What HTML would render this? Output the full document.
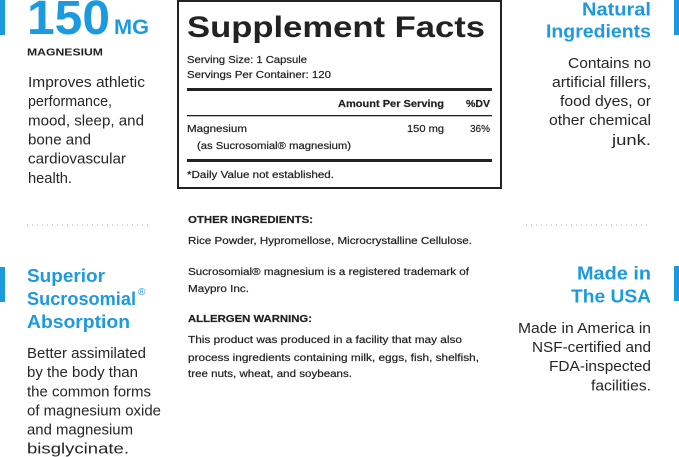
<!DOCTYPE html>
<html><head><meta charset="utf-8"><style>
html,body{margin:0;padding:0;background:#fff;}
svg{display:block;}
text{font-family:"Liberation Sans",sans-serif;}
.b{font-weight:bold;}
.blue{fill:#1c9ae0;}
.body{fill:#262626;font-size:15px;}
.h{fill:#1c9ae0;font-weight:bold;font-size:18.5px;}
.s{fill:#222;font-size:10px;stroke:#222;stroke-width:0.2;}
</style></head><body>
<svg width="679" height="457" viewBox="0 0 679 457" xmlns="http://www.w3.org/2000/svg">
<rect width="679" height="457" fill="#fff"/>
<rect x="0" y="0" width="5" height="35" fill="#1c9ae0"/>
<rect x="0" y="267" width="5" height="35" fill="#1c9ae0"/>
<rect x="674" y="0" width="5" height="35" fill="#1c9ae0"/>
<rect x="674" y="266" width="5" height="35" fill="#1c9ae0"/>

<text x="27" y="34" class="b blue" font-size="48" textLength="83" lengthAdjust="spacingAndGlyphs">150</text>
<text x="114" y="34" class="b blue" font-size="21" textLength="35" lengthAdjust="spacingAndGlyphs">MG</text>
<text x="27" y="55.5" class="b" fill="#222" font-size="10" textLength="76" lengthAdjust="spacingAndGlyphs">MAGNESIUM</text>
<text x="28" y="87" class="body" textLength="117" lengthAdjust="spacingAndGlyphs">Improves athletic</text>
<text x="28" y="106" class="body" textLength="84" lengthAdjust="spacingAndGlyphs">performance,</text>
<text x="28" y="125.5" class="body" textLength="116" lengthAdjust="spacingAndGlyphs">mood, sleep, and</text>
<text x="28" y="144.5" class="body" textLength="63" lengthAdjust="spacingAndGlyphs">bone and</text>
<text x="28" y="163.5" class="body" textLength="98" lengthAdjust="spacingAndGlyphs">cardiovascular</text>
<text x="28" y="183" class="body" textLength="44" lengthAdjust="spacingAndGlyphs">health.</text>

<line x1="27" y1="225" x2="152" y2="225" stroke="#a8a8a8" stroke-width="1" stroke-dasharray="1 4"/>
<line x1="526" y1="225" x2="651" y2="225" stroke="#a8a8a8" stroke-width="1" stroke-dasharray="1 4"/>

<text x="27" y="282" class="h" textLength="78" lengthAdjust="spacingAndGlyphs">Superior</text>
<text x="27" y="305" class="h" textLength="109" lengthAdjust="spacingAndGlyphs">Sucrosomial</text>
<text x="138" y="295" class="blue" font-size="10">®</text>
<text x="27" y="328" class="h" textLength="103" lengthAdjust="spacingAndGlyphs">Absorption</text>
<text x="27" y="358" class="body" textLength="119" lengthAdjust="spacingAndGlyphs">Better assimilated</text>
<text x="27" y="377" class="body" textLength="111" lengthAdjust="spacingAndGlyphs">by the body than</text>
<text x="27" y="396.5" class="body" textLength="124" lengthAdjust="spacingAndGlyphs">the common forms</text>
<text x="27" y="415.5" class="body" textLength="134" lengthAdjust="spacingAndGlyphs">of magnesium oxide</text>
<text x="27" y="434.5" class="body" textLength="106" lengthAdjust="spacingAndGlyphs">and magnesium</text>
<text x="27" y="453.5" class="body" textLength="102" lengthAdjust="spacingAndGlyphs">bisglycinate.</text>

<text x="582" y="15.5" class="h" textLength="69" lengthAdjust="spacingAndGlyphs">Natural</text>
<text x="546" y="37.5" class="h" textLength="105" lengthAdjust="spacingAndGlyphs">Ingredients</text>
<text x="568" y="68" class="body" textLength="83" lengthAdjust="spacingAndGlyphs">Contains no</text>
<text x="552" y="87" class="body" textLength="99" lengthAdjust="spacingAndGlyphs">artificial fillers,</text>
<text x="560" y="106" class="body" textLength="91" lengthAdjust="spacingAndGlyphs">food dyes, or</text>
<text x="549" y="125" class="body" textLength="102" lengthAdjust="spacingAndGlyphs">other chemical</text>
<text x="612" y="145" class="body" textLength="39" lengthAdjust="spacingAndGlyphs">junk.</text>

<text x="577" y="279.5" class="h" textLength="74" lengthAdjust="spacingAndGlyphs">Made in</text>
<text x="571" y="302.5" class="h" textLength="80" lengthAdjust="spacingAndGlyphs">The USA</text>
<text x="518" y="333" class="body" textLength="133" lengthAdjust="spacingAndGlyphs">Made in America in</text>
<text x="532" y="352" class="body" textLength="119" lengthAdjust="spacingAndGlyphs">NSF-certified and</text>
<text x="549" y="371" class="body" textLength="102" lengthAdjust="spacingAndGlyphs">FDA-inspected</text>
<text x="591" y="390.5" class="body" textLength="60" lengthAdjust="spacingAndGlyphs">facilities.</text>

<rect x="178" y="1" width="323" height="187" fill="none" stroke="#222" stroke-width="2"/>
<text x="187" y="37" class="b" fill="#222" font-size="30" textLength="298" lengthAdjust="spacingAndGlyphs">Supplement Facts</text>
<text x="187" y="63" class="s" textLength="120" lengthAdjust="spacingAndGlyphs">Serving Size: 1 Capsule</text>
<text x="187" y="78" class="s" textLength="144" lengthAdjust="spacingAndGlyphs">Servings Per Container: 120</text>
<rect x="187" y="88" width="305" height="3" fill="#222"/>
<text x="338" y="107" class="s b" textLength="106" lengthAdjust="spacingAndGlyphs">Amount Per Serving</text>
<text x="466" y="107" class="s b" textLength="24" lengthAdjust="spacingAndGlyphs">%DV</text>
<rect x="187" y="115" width="305" height="1.3" fill="#222"/>
<text x="187" y="132" class="s" textLength="60" lengthAdjust="spacingAndGlyphs">Magnesium</text>
<text x="407" y="132" class="s" textLength="37" lengthAdjust="spacingAndGlyphs">150 mg</text>
<text x="470" y="132" class="s" textLength="20" lengthAdjust="spacingAndGlyphs">36%</text>
<text x="197" y="149" class="s" textLength="154" lengthAdjust="spacingAndGlyphs">(as Sucrosomial® magnesium)</text>
<rect x="187" y="159" width="305" height="3" fill="#222"/>
<text x="187" y="178" class="s" textLength="147" lengthAdjust="spacingAndGlyphs">*Daily Value not established.</text>

<text x="188" y="223" class="s b" font-size="9.5" textLength="125" lengthAdjust="spacingAndGlyphs">OTHER INGREDIENTS:</text>
<text x="188" y="244" class="s" font-size="9.5" textLength="284" lengthAdjust="spacingAndGlyphs">Rice Powder, Hypromellose, Microcrystalline Cellulose.</text>
<text x="188" y="275" class="s" font-size="9.5" textLength="281" lengthAdjust="spacingAndGlyphs">Sucrosomial® magnesium is a registered trademark of</text>
<text x="188" y="292" class="s" font-size="9.5" textLength="61" lengthAdjust="spacingAndGlyphs">Maypro Inc.</text>
<text x="188" y="322" class="s b" font-size="9.5" textLength="124" lengthAdjust="spacingAndGlyphs">ALLERGEN WARNING:</text>
<text x="188" y="343" class="s" font-size="9.5" textLength="274" lengthAdjust="spacingAndGlyphs">This product was produced in a facility that may also</text>
<text x="188" y="361" class="s" font-size="9.5" textLength="291" lengthAdjust="spacingAndGlyphs">process ingredients containing milk, eggs, fish, shelfish,</text>
<text x="188" y="377" class="s" font-size="9.5" textLength="164" lengthAdjust="spacingAndGlyphs">tree nuts, wheat, and soybeans.</text>
</svg>
</body></html>
